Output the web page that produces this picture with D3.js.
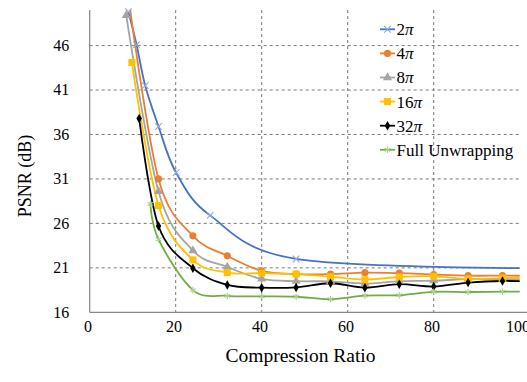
<!DOCTYPE html>
<html>
<head>
<meta charset="utf-8">
<script src="https://cdn.jsdelivr.net/npm/d3@7"></script>
<style>
  body { margin: 0; background: #fff; }
  text { font-family: "Liberation Serif", "DejaVu Serif", serif; }
  .grid line { stroke: #7a7a7a; stroke-width: 1; stroke-dasharray: 3,3; }
  .axis-line { stroke: #868686; stroke-width: 1.2; }
  .tick-label { font-size: 16px; fill: #000; }
  .axis-title { fill: #000; }
  .legend-label { font-size: 17px; fill: #000; }
</style>
</head>
<body>
<div id="chart"></div>
<script>
// series names (legend order)
const seriesNames = ['2π', '4π', '8π', '16π', '32π', 'Full Unwrapping'];

// compression ratio / PSNR
const ratio2pi = [9.0, 10.9, 12.9, 16.0, 20.1, 28.0, 48.0, 104];
const psnr2pi = [49.8, 46.1, 41.5, 36.9, 31.7, 26.9, 22.0, 20.95];

const ratio4pi = [9.3, 16, 24, 32, 40, 48, 56, 64, 72, 80, 88, 96, 104];
const psnr4pi = [50.4, 31.0, 24.6, 22.35, 20.66, 20.3, 20.3, 20.46, 20.4, 20.25, 20.12, 20.12, 20.1];

const ratio8pi = [8.5, 16, 24, 32, 40, 48, 56, 64, 72, 80, 88, 96, 104];
const psnr8pi = [49.4, 29.6, 22.95, 21.1, 19.75, 19.5, 19.48, 19.23, 19.5, 19.55, 19.72, 19.72, 19.7];

const ratio16pi = [9.8, 16, 24, 32, 40, 48, 56, 64, 72, 80, 88, 96, 104];
const psnr16pi = [44.1, 28.0, 21.9, 20.47, 20.4, 20.3, 20.0, 19.67, 19.97, 20.05, 19.75, 19.85, 19.85];

const ratio32pi = [11.5, 16, 24, 32, 40, 48, 56, 64, 72, 80, 88, 96, 104];
const psnr32pi = [37.8, 25.7, 20.96, 19.08, 18.77, 18.8, 19.27, 18.77, 19.16, 18.9, 19.34, 19.52, 19.45];

const ratioFull = [14.1, 16, 24, 32, 40, 48, 56, 64, 72, 80, 88, 96, 104];
const psnrFull = [28.2, 24.2, 18.5, 17.85, 17.8, 17.75, 17.47, 17.87, 17.92, 18.3, 18.28, 18.32, 18.32];

// axis ticks
const xTicks = [0, 20, 40, 60, 80, 100];
const yTicks = [16, 21, 26, 31, 36, 41, 46];

class PsnrChart {
  constructor(_config, _data) {
    this.config = {
      parentElement: _config.parentElement,
      containerWidth: _config.containerWidth || 527,
      containerHeight: _config.containerHeight || 382,
      margin: _config.margin || { top: 10, right: 7.3, bottom: 69.7, left: 89.7 },
    };
    this.data = _data;
    this.initVis();
  }

  initVis() {
    let vis = this;

    vis.width = 430;
    vis.height = vis.config.containerHeight - vis.config.margin.top - vis.config.margin.bottom;

    vis.xScale = d3.scaleLinear().domain([0, 100]).range([0, vis.width]);
    vis.yScale = d3.scaleLinear().domain([16, 50]).range([vis.height, 0]);

    vis.svg = d3
      .select(vis.config.parentElement)
      .append('svg')
      .attr('width', vis.config.containerWidth)
      .attr('height', vis.config.containerHeight)
      .attr('font-family', '"Liberation Serif", "DejaVu Serif", serif');

    vis.chart = vis.svg
      .append('g')
      .attr('transform', `translate(${vis.config.margin.left}, ${vis.config.margin.top})`);

    // lines are clipped to the plot area
    vis.svg
      .append('defs')
      .append('clipPath')
      .attr('id', 'plot-clip')
      .append('rect')
      .attr('x', 0)
      .attr('y', 0)
      .attr('width', vis.width)
      .attr('height', vis.height);

    vis.renderVis();
    vis.renderLegend();
  }

  renderVis() {
    let vis = this;

    // gridlines
    vis.chart
      .append('g')
      .attr('class', 'grid')
      .selectAll('line.h')
      .data(yTicks.filter((d) => d !== 16))
      .join('line')
      .attr('x1', 0)
      .attr('x2', vis.width)
      .attr('y1', (d) => vis.yScale(d))
      .attr('y2', (d) => vis.yScale(d));

    vis.chart
      .append('g')
      .attr('class', 'grid')
      .selectAll('line.v')
      .data(xTicks.filter((d) => d !== 0 && d !== 100))
      .join('line')
      .attr('x1', (d) => vis.xScale(d))
      .attr('x2', (d) => vis.xScale(d))
      .attr('y1', 0)
      .attr('y2', vis.height);

    // axis lines
    vis.chart
      .append('line')
      .attr('class', 'axis-line')
      .attr('x1', 0)
      .attr('x2', 0)
      .attr('y1', 0)
      .attr('y2', vis.height);
    vis.chart
      .append('line')
      .attr('class', 'axis-line')
      .attr('x1', 0)
      .attr('x2', vis.config.containerWidth)
      .attr('y1', vis.height)
      .attr('y2', vis.height);

    // tick labels
    vis.chart
      .selectAll('.y-label')
      .data(yTicks)
      .join('text')
      .attr('class', 'tick-label')
      .attr('x', -20.5)
      .attr('y', (d) => vis.yScale(d) + 5.4)
      .attr('text-anchor', 'end')
      .text((d) => d);

    vis.chart
      .selectAll('.x-label')
      .data(xTicks)
      .join('text')
      .attr('class', 'tick-label')
      .attr('x', (d) => vis.xScale(d) - 1.8)
      .attr('y', vis.height + 19.7)
      .attr('text-anchor', 'middle')
      .text((d) => d);

    // axis titles
    vis.svg
      .append('text')
      .attr('class', 'axis-title')
      .attr('transform', 'translate(25,176) rotate(-90)')
      .attr('text-anchor', 'middle')
      .attr('dy', '0.35em')
      .style('font-size', '18px')
      .text('PSNR (dB)');

    vis.svg
      .append('text')
      .attr('class', 'axis-title')
      .attr('x', 300.5)
      .attr('y', 362)
      .attr('text-anchor', 'middle')
      .style('font-size', '19.5px')
      .text('Compression Ratio');

    // lines (Excel-style smoothing)
    const line = d3
      .line()
      .x((d) => vis.xScale(d.x))
      .y((d) => vis.yScale(d.y))
      .curve(d3.curveCatmullRom.alpha(0));

    vis.chart
      .append('g')
      .attr('clip-path', 'url(#plot-clip)')
      .selectAll('.series-line')
      .data(vis.data)
      .join('path')
      .attr('class', 'series-line')
      .attr('d', (s) => line(s.points))
      .attr('fill', 'none')
      .attr('stroke', (s) => s.color)
      .attr('stroke-width', 1.8);

    // markers, only for points inside the axis range
    vis.data.forEach((s) => {
      vis.chart
        .append('g')
        .selectAll('path')
        .data(s.points.filter((p) => p.x <= 100 && p.y <= 50))
        .join('path')
        .attr('transform', (p) => `translate(${vis.xScale(p.x)},${vis.yScale(p.y)})`)
        .call((sel) => vis.styleMarker(sel, s));
    });
  }

  styleMarker(sel, s) {
    sel.attr('d', d3.symbol().type(s.symbol).size(s.size)());
    if (s.stroked) {
      sel.attr('fill', 'none').attr('stroke', s.markerColor).attr('stroke-width', 1.1);
    } else {
      sel.attr('fill', s.markerColor).attr('stroke', 'none');
    }
  }

  // legend
  renderLegend() {
    let vis = this;
    const legend = vis.svg.append('g').attr('transform', 'translate(380,29.3)');

    const items = legend
      .selectAll('.legend-item')
      .data(vis.data)
      .join('g')
      .attr('class', 'legend-item')
      .attr('transform', (d, i) => `translate(0,${i * 24.1})`);

    items
      .append('line')
      .attr('x1', 0)
      .attr('x2', 15)
      .attr('stroke', (d) => d.color)
      .attr('stroke-width', 1.8);

    items.each(function (d) {
      d3.select(this)
        .append('path')
        .attr('transform', 'translate(7.5,0)')
        .call((sel) => vis.styleMarker(sel, d));
    });

    const labels = items
      .append('text')
      .attr('class', 'legend-label')
      .attr('x', 16.5)
      .attr('dy', '0.35em');

    labels.each(function (d) {
      const t = d3.select(this);
      if (d.name.endsWith('π')) {
        t.append('tspan').text(d.name.slice(0, -1));
        t.append('tspan').style('font-style', 'italic').text('π');
      } else {
        t.text(d.name);
      }
    });
  }
}

const zip = (xs, ys) => xs.map((x, i) => ({ x: x, y: ys[i] }));

const data = [
  { name: seriesNames[0], points: zip(ratio2pi, psnr2pi), color: '#4472C4', markerColor: '#8FAADC', symbol: d3.symbolX, size: 30, stroked: true },
  { name: seriesNames[1], points: zip(ratio4pi, psnr4pi), color: '#ED7D31', markerColor: '#ED7D31', symbol: d3.symbolCircle, size: 40 },
  { name: seriesNames[2], points: zip(ratio8pi, psnr8pi), color: '#A5A5A5', markerColor: '#A5A5A5', symbol: d3.symbolTriangle, size: 36 },
  { name: seriesNames[3], points: zip(ratio16pi, psnr16pi), color: '#FFC000', markerColor: '#FFC000', symbol: d3.symbolSquare, size: 49 },
  { name: seriesNames[4], points: zip(ratio32pi, psnr32pi), color: '#000000', markerColor: '#000000', symbol: d3.symbolDiamond, size: 26 },
  { name: seriesNames[5], points: zip(ratioFull, psnrFull), color: '#70AD47', markerColor: '#A9D18E', symbol: d3.symbolAsterisk, size: 30, stroked: true },
];

new PsnrChart({ parentElement: '#chart' }, data);
</script>
</body>
</html>
